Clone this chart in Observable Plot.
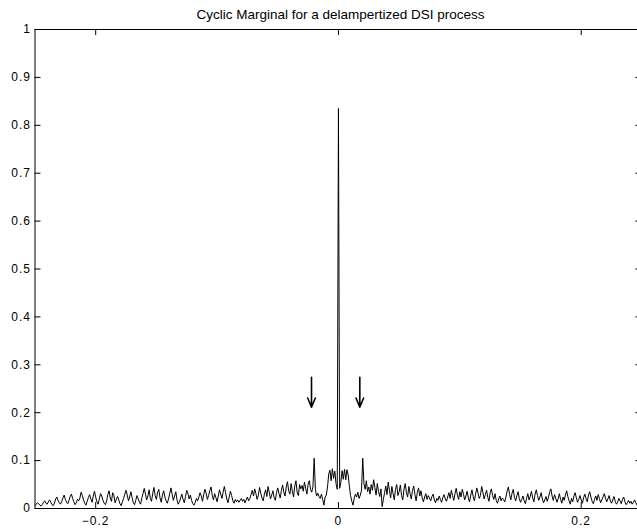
<!DOCTYPE html>
<html><head><meta charset="utf-8">
<script src="https://cdn.jsdelivr.net/npm/d3@7"></script>
<script src="https://cdn.jsdelivr.net/npm/@observablehq/plot@0.6"></script>
<style>
html,body{margin:0;padding:0;background:#fff;overflow:hidden;width:637px;height:529px}
#chart{width:642px}
#chart svg{display:block;max-width:none !important}
g[aria-label$="tick label"] text{letter-spacing:1px}
</style>
</head><body><div id="chart"></div>
<script>
const title = "Cyclic Marginal for a delampertized DSI process";
const freqStart = -0.25;
const freqStep = 0.001;
const marginal = [
.006,.009,.012,.010,.007,.005,.008,.013,.016,.011,
.009,.014,.018,.013,.008,.006,.011,.020,.024,.017,
.012,.009,.015,.022,.028,.019,.013,.010,.017,.025,
.030,.021,.014,.008,.012,.019,.016,.022,.034,.027,
.018,.011,.007,.015,.023,.029,.020,.013,.026,.036,
.024,.014,.009,.020,.031,.026,.017,.011,.008,.016,
.029,.037,.022,.015,.033,.027,.012,.019,.025,.018,
.010,.006,.014,.021,.030,.038,.028,.016,.024,.035,
.023,.012,.008,.017,.027,.020,.013,.009,.022,.031,
.042,.030,.018,.026,.039,.021,.015,.032,.044,.027,
.019,.034,.040,.022,.013,.028,.037,.024,.016,.011,
.020,.031,.043,.029,.017,.026,.035,.018,.009,.014,
.022,.030,.019,.012,.025,.038,.031,.020,.028,.017,
.010,.007,.013,.021,.016,.024,.033,.026,.015,.029,
.040,.032,.019,.027,.037,.045,.028,.018,.031,.023,
.014,.026,.039,.030,.021,.034,.046,.033,.020,.012,
.024,.036,.027,.016,.011,.019,.014,.018,.013,.017,
.021,.015,.019,.012,.018,.024,.016,.021,.029,.038,
.026,.041,.031,.019,.027,.044,.032,.022,.016,.030,
.039,.025,.046,.034,.020,.028,.037,.023,.017,.033,
.043,.031,.022,.038,.049,.034,.026,.045,.056,.037,
.030,.052,.036,.024,.047,.058,.033,.027,.050,.041,
.048,.036,.055,.042,.030,.051,.058,.040,.034,.046,
.105,.040,.026,.032,.025,.021,.030,.019,.007,.024,
.028,.045,.072,.080,.058,.083,.063,.078,.052,.040,
.835,.042,.055,.079,.061,.082,.060,.081,.070,.046,
.027,.015,.007,.022,.030,.024,.034,.021,.028,.038,
.105,.052,.040,.058,.035,.045,.030,.050,.038,.060,
.044,.028,.052,.036,.025,.041,.004,.019,.033,.047,
.029,.055,.038,.022,.046,.031,.018,.040,.050,.027,
.035,.049,.027,.018,.040,.052,.033,.024,.046,.031,
.020,.038,.047,.029,.016,.034,.043,.026,.037,.022,
.014,.024,.031,.019,.027,.022,.016,.025,.030,.018,
.012,.021,.017,.026,.019,.013,.023,.029,.020,.015,
.024,.033,.021,.038,.027,.017,.031,.042,.028,.019,
.035,.024,.040,.030,.018,.026,.036,.022,.014,.028,
.039,.025,.016,.030,.043,.032,.021,.027,.046,.034,
.020,.029,.038,.024,.015,.033,.041,.027,.019,.031,
.017,.011,.020,.026,.016,.022,.019,.014,.024,.037,
.045,.029,.018,.032,.040,.023,.016,.027,.035,.021,
.013,.019,.026,.016,.010,.021,.031,.018,.025,.036,
.022,.014,.030,.039,.027,.017,.024,.033,.020,.012,
.018,.025,.015,.023,.034,.041,.026,.017,.029,.022,
.013,.020,.031,.019,.011,.024,.017,.028,.037,.025,
.016,.009,.021,.014,.026,.033,.022,.013,.019,.027,
.018,.011,.023,.030,.020,.014,.028,.035,.024,.015,
.010,.019,.026,.017,.029,.021,.012,.018,.024,.031,
.022,.014,.020,.027,.016,.011,.018,.025,.015,.009,
.013,.021,.016,.010,.019,.024,.014,.008,.012,.017,
.011,.015,.009,.013,.018,.012,.007,.010,.014,.009,
.011
];
const xTicks = [-0.2, 0, 0.2];
const yTicks = [0, 0.1, 0.2, 0.3, 0.4, 0.5, 0.6, 0.7, 0.8, 0.9, 1];
const arrowFreq = [-0.0222, 0.0176];
const arrowTop = [0.274, 0.274];
const arrowTip = [0.2115, 0.2115];

const series = marginal.map((v, i) => ({f: freqStart + i * freqStep, v}));
const arrows = arrowFreq.map((f, i) => ({f, y1: arrowTop[i], y2: arrowTip[i]}));

const W = 642, H = 529;
const mL = 34.5, mR = 0.6, mT = 29, mB = 21;
const pw = W - mL - mR, ph = H - mT - mB;

const chart = Plot.plot({
  width: W, height: H,
  marginLeft: mL, marginRight: mR, marginTop: mT, marginBottom: mB,
  style: {fontFamily: "'Liberation Sans', Arial, Helvetica, sans-serif", fontSize: "12px", color: "black", background: "white", maxWidth: "none"},
  x: {domain: [-0.25, 0.25], label: null},
  y: {domain: [0, 1], label: null},
  marks: [
    Plot.line(series, {x: "f", y: "v", stroke: "black", strokeWidth: 1}),
    Plot.tickX(xTicks, {x: d => d, insetTop: ph - 6, stroke: "black"}),
    Plot.tickX(xTicks, {x: d => d, insetBottom: ph - 6, stroke: "black"}),
    Plot.tickY(yTicks, {y: d => d, insetRight: pw - 6, stroke: "black"}),
    Plot.tickY(yTicks, {y: d => d, insetLeft: pw - 6, stroke: "black"}),
    Plot.frame({stroke: "black", strokeWidth: 1}),
    Plot.arrow(arrows, {x: "f", y1: "y1", y2: "y2", stroke: "black", strokeWidth: 1.6, headLength: 13, headAngle: 45}),
    Plot.axisX({ticks: xTicks, tickSize: 0, tickPadding: 8, tickFormat: d => d === 0 ? "0" : d3.format(".1f")(d)}),
    Plot.axisY({ticks: yTicks, tickSize: 0, tickPadding: 4, tickFormat: d => d3.format("~g")(d)}),
    Plot.text([title], {frameAnchor: "top", dy: -20, dx: 2, text: d => d, fontSize: 13.5, fill: "black"})
  ]
});
document.getElementById("chart").appendChild(chart);
</script>
</body></html>
